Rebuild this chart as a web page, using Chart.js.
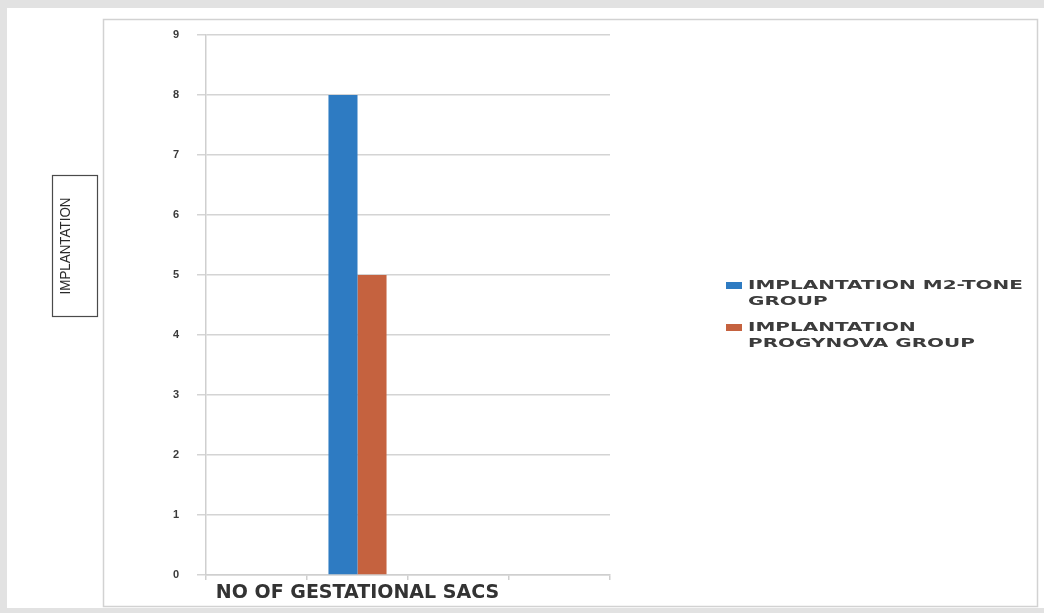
<!DOCTYPE html>
<html><head><meta charset="utf-8">
<script src="https://cdn.jsdelivr.net/npm/chart.js@4.4.1/dist/chart.umd.min.js"></script>
<style>
html,body{margin:0;padding:0;background:#e2e2e2;overflow:hidden;}
#wrap{position:absolute;left:0;top:0;width:1044px;height:613px;}
#paper{position:absolute;left:7px;top:8px;width:1037px;height:600px;background:#fff;}
#c{position:absolute;left:0;top:0;}
</style></head><body>
<div id="wrap"><div id="paper"></div><canvas id="c" width="1044" height="613"></canvas></div>
<script>
// ---- data ----
const categories = ["", "NO OF GESTATIONAL SACS", "", ""];
const m2ToneValues = [null, 8, null, null];
const progynovaValues = [null, 5, null, null];
const seriesLabels = [["IMPLANTATION M2-TONE", "GROUP"], ["IMPLANTATION", "PROGYNOVA GROUP"]];
const seriesColors = ["#2e7bc2", "#c5623f"];
const yTickValues = [0, 1, 2, 3, 4, 5, 6, 7, 8, 9];
const yTitle = "IMPLANTATION";

const framePlugin = {
  id: 'frame',
  beforeDraw(chart) {
    const ctx = chart.ctx;
    ctx.save();
    ctx.strokeStyle = '#d2d2d2';
    ctx.lineWidth = 1.5;
    ctx.strokeRect(103.5, 19.5, 934, 587);
    ctx.restore();
  },
  afterDraw(chart) {
    const ctx = chart.ctx;
    // y title box
    ctx.save();
    ctx.strokeStyle = '#4a4a4a';
    ctx.lineWidth = 1.2;
    ctx.strokeRect(52.5, 175.5, 45, 141);
    ctx.translate(66, 246);
    ctx.rotate(-Math.PI / 2);
    ctx.font = '15px "Liberation Sans", Arial, sans-serif';
    const w = ctx.measureText(yTitle).width;
    ctx.scale(97 / w, 1);
    ctx.fillStyle = '#2a2a2a';
    ctx.textAlign = 'center';
    ctx.textBaseline = 'middle';
    ctx.fillText(yTitle, 0, 0);
    ctx.restore();

    // legend
    ctx.save();
    ctx.font = 'bold 12.5px "DejaVu Sans", sans-serif';
    const sx = 275 / ctx.measureText(seriesLabels[0][0]).width;
    chart.data.datasets.forEach((ds, i) => {
      const baseY = 286 + i * 42;
      ctx.fillStyle = ds.backgroundColor;
      ctx.fillRect(726, baseY - 4, 16, 7);
      ctx.fillStyle = '#3c3c3c';
      ctx.textBaseline = 'middle';
      ds.legendLines.forEach((line, j) => {
        ctx.save();
        ctx.translate(748, baseY + j * 16);
        ctx.scale(sx, 1);
        ctx.fillText(line, 0, 0);
        ctx.restore();
      });
    });
    ctx.restore();
  }
};

new Chart(document.getElementById('c'), {
  type: 'bar',
  data: {
    labels: categories,
    datasets: [
      { label: seriesLabels[0].join(' '), legendLines: seriesLabels[0], data: m2ToneValues, backgroundColor: seriesColors[0] },
      { label: seriesLabels[1].join(' '), legendLines: seriesLabels[1], data: progynovaValues, backgroundColor: seriesColors[1] }
    ]
  },
  options: {
    responsive: false,
    animation: false,
    events: [],
    layout: { padding: { left: 0, right: 434, top: 35, bottom: 0 } },
    datasets: { bar: { categoryPercentage: 0.575, barPercentage: 1.0 } },
    plugins: { legend: { display: false }, tooltip: { enabled: false } },
    scales: {
      x: {
        afterFit(s) { s.height = 38; },
        grid: { display: true, drawOnChartArea: false, drawTicks: true, tickLength: 5, color: '#cfcfcf', lineWidth: 1.5, offset: true },
        border: { display: true, color: '#cfcfcf', width: 1.5 },
        ticks: { color: '#333', padding: 2, font: { family: '"DejaVu Sans", sans-serif', size: 19, weight: 'bold' }, maxRotation: 0, autoSkip: false }
      },
      y: {
        min: 0, max: 9,
        afterFit(s) { s.width = 206; },
        afterBuildTicks(s) { s.ticks = yTickValues.map(v => ({ value: v })); },
        grid: { color: '#d4d4d4', lineWidth: 1.5, tickLength: 9 },
        border: { display: true, color: '#cfcfcf', width: 1.5 },
        ticks: { color: '#3a3a3a', padding: 18, font: { family: '"Liberation Sans", Arial, sans-serif', size: 11, weight: 'bold' } }
      }
    }
  },
  plugins: [framePlugin]
});
</script>
</body></html>
